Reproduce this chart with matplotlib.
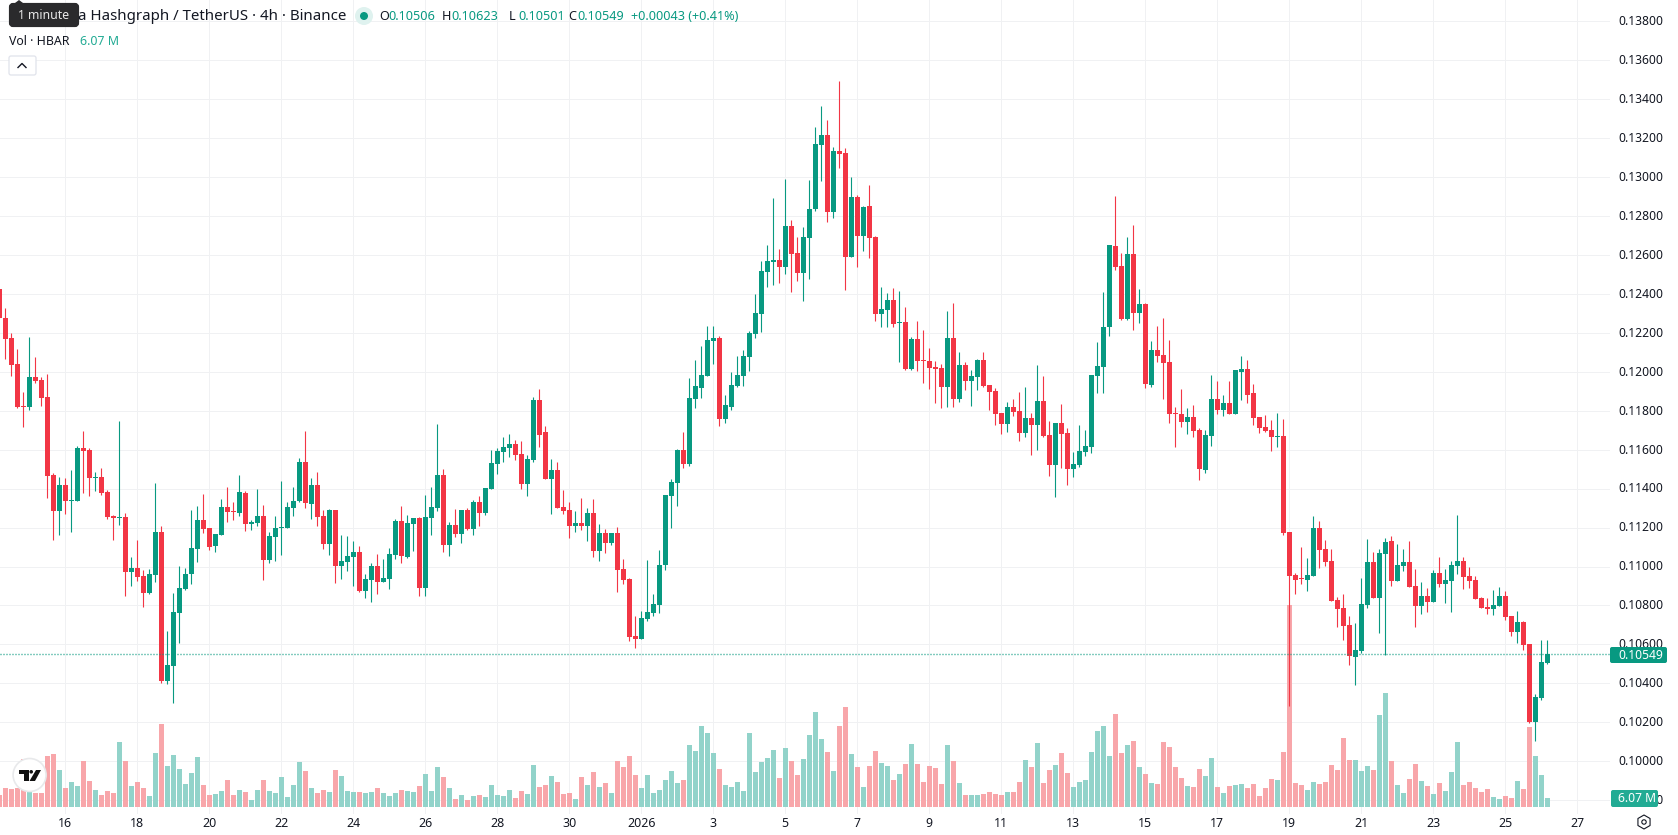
import matplotlib

matplotlib.use("Agg")
import matplotlib.pyplot as plt
from matplotlib.patches import Circle, FancyBboxPatch, Polygon, Rectangle, RegularPolygon
from matplotlib.transforms import ScaledTranslation
import numpy as np

# 4h candles, first one is Dec 14 04:00
opens = [
    .12427, .12278, .12175, .12042, .11824, .11821, .11975, .11960, .11872, .11471,
    .11286, .11420, .11337, .11337, .11610, .11600, .11457, .11461, .11384, .11260,
    .11250, .11255, .10972, .10993, .10952, .10864, .10957, .11178, .10412, .10489,
    .10762, .10885, .10962, .11091, .11240, .11199, .11106, .11163, .11307, .11286,
    .11276, .11379, .11219, .11224, .11260, .11034, .11152, .11199, .11199, .11301,
    .11335, .11536, .11320, .11417, .11258, .11114, .11289, .11001, .11021, .11047,
    .11073, .10872, .10929, .11001, .10919, .10934, .11057, .11232, .11047, .11217,
    .11248, .10888, .11248, .11299, .11469, .11109, .11212, .11165, .11289, .11191,
    .11330, .11273, .11397, .11525, .11587, .11608, .11628, .11577, .11422, .11546,
    .11854, .11693, .11448, .11494, .11304, .11289, .11207, .11222, .11207, .11276,
    .11081, .11173, .11122, .11173, .10988, .10937, .10644, .10628, .10731, .10762,
    .10803, .11009, .11364, .11430, .11600, .11528, .11862, .11919, .11981, .12161,
    .12176, .11760, .11821, .11929, .11981, .12078, .12194, .12296, .12512, .12564,
    .12574, .12538, .12749, .12610, .12507, .12687, .12836, .13165, .13217, .12821,
    .13134, .13124, .12589, .12898, .12697, .12852, .12692, .12296, .12317, .12368,
    .12250, .12255, .12014, .12168, .12062, .12057, .12026, .12021, .11924, .12175,
    .11862, .12037, .11954, .11975, .12062, .11934, .11903, .11790, .11733, .11821,
    .11800, .11687, .11764, .11728, .11852, .11677, .11523, .11738, .11687, .11502,
    .11523, .11589, .11615, .11980, .12026, .12228, .12644, .12546, .12274, .12603,
    .12300, .12346, .11935, .12114, .12089, .12053, .11791, .11785, .11744, .11770,
    .11703, .11498, .11672, .11863, .11806, .11842, .11785, .12001, .12017, .11893,
    .11770, .11719, .11703, .11667, .11672, .11178, .10957, .10941, .10931, .10951,
    .11198, .11090, .11029, .10828, .10787, .10700, .10535, .10566, .10802, .11023,
    .10838, .11065, .11131, .10926, .11003, .11023, .10900, .10797, .10849, .10818,
    .10967, .10910, .10926, .11003, .11029, .10951, .10931, .10838, .10792, .10782,
    .10797, .10849, .10746, .10664, .10715, .10602, .10200, .10324, .10506,
]
highs = [
    .12427, .12330, .12200, .12119, .11898, .12181, .12078, .11975, .11990, .11481,
    .11461, .11456, .11497, .11620, .11697, .11610, .11487, .11507, .11394, .11265,
    .11749, .11273, .11050, .11137, .10983, .10988, .11430, .11209, .10669, .10864,
    .11003, .10993, .11291, .11312, .11373, .11199, .11168, .11348, .11409, .11332,
    .11471, .11389, .11240, .11400, .11315, .11178, .11260, .11440, .11332, .11409,
    .11556, .11695, .11453, .11484, .11289, .11294, .11289, .11160, .11155, .11129,
    .11108, .10960, .11016, .11063, .11037, .11093, .11243, .11309, .11263, .11248,
    .11253, .11366, .11407, .11731, .11500, .11227, .11294, .11289, .11299, .11340,
    .11361, .11402, .11597, .11608, .11664, .11680, .11649, .11644, .11572, .11873,
    .11911, .11721, .11551, .11536, .11392, .11330, .11284, .11350, .11299, .11348,
    .11220, .11194, .11173, .11204, .11040, .10942, .10747, .10772, .11035, .10860,
    .11086, .11369, .11451, .11605, .11693, .11970, .12063, .12135, .12238, .12233,
    .12186, .11883, .12001, .12083, .12114, .12212, .12399, .12569, .12651, .12893,
    .12630, .12990, .12780, .12692, .12744, .12985, .13258, .13366, .13294, .13155,
    .13494, .13150, .13001, .12908, .12852, .12960, .12697, .12435, .12404, .12430,
    .12415, .12332, .12178, .12260, .12217, .12124, .12057, .12042, .12314, .12355,
    .12104, .12052, .12011, .12068, .12104, .11934, .11918, .11790, .11846, .11862,
    .11898, .11924, .11790, .12037, .11980, .11749, .11738, .11836, .11713, .11589,
    .11728, .11702, .11985, .12155, .12412, .12654, .12901, .12613, .12695, .12752,
    .12423, .12356, .12161, .12233, .12279, .12166, .11821, .11914, .11816, .11832,
    .11713, .11703, .11986, .11955, .11883, .11955, .12012, .12084, .12063, .11940,
    .11770, .11780, .11755, .11791, .11760, .11178, .10967, .11101, .11044, .11260,
    .11234, .11137, .11090, .10844, .10859, .10746, .10710, .10941, .11142, .11075,
    .11090, .11147, .11157, .11116, .11090, .11131, .10987, .10921, .10890, .10982,
    .11049, .10987, .11029, .11265, .11049, .10998, .10951, .10844, .10838, .10880,
    .10895, .10874, .10746, .10772, .10720, .10602, .10345, .10622, .10623,
]
lows = [
    .12275, .12067, .11980, .11816, .11718, .11805, .11944, .11826, .11353, .11137,
    .11163, .11271, .11178, .11337, .11379, .11363, .11389, .11368, .11245, .11137,
    .11214, .10849, .10900, .10926, .10792, .10859, .10921, .10402, .10397, .10299,
    .10607, .10880, .10911, .11024, .11173, .11086, .11075, .11163, .11229, .11240,
    .11260, .11183, .11188, .11209, .10931, .11019, .11029, .11060, .11199, .11260,
    .11330, .11299, .11243, .11207, .11088, .11057, .10913, .10934, .10975, .10898,
    .10867, .10841, .10816, .10857, .10919, .10883, .11037, .11016, .11042, .11078,
    .10847, .10847, .11160, .11284, .11073, .11052, .11150, .11119, .11186, .11160,
    .11207, .11263, .11397, .11474, .11536, .11561, .11546, .11397, .11361, .11536,
    .11613, .11448, .11268, .11299, .11268, .11145, .11176, .11186, .11129, .11050,
    .11029, .11071, .11112, .10870, .10911, .10618, .10582, .10628, .10721, .10747,
    .10762, .10983, .11199, .11312, .11508, .11518, .11816, .11868, .11981, .12042,
    .11724, .11739, .11806, .11924, .11929, .12006, .12173, .12204, .12435, .12445,
    .12456, .12502, .12409, .12466, .12363, .12476, .12826, .12980, .12769, .12790,
    .13047, .12420, .12589, .12538, .12620, .12584, .12260, .12229, .12229, .12229,
    .12050, .12009, .12009, .12006, .11944, .11913, .11841, .11816, .11821, .11821,
    .11846, .11908, .11826, .11908, .11924, .11805, .11728, .11682, .11692, .11774,
    .11646, .11666, .11574, .11600, .11667, .11466, .11358, .11507, .11420, .11461,
    .11512, .11569, .11584, .11893, .11893, .12186, .12521, .12264, .12264, .12217,
    .12253, .11919, .11924, .12053, .11863, .11739, .11616, .11719, .11683, .11667,
    .11446, .11482, .11621, .11785, .11775, .11785, .11785, .11857, .11842, .11729,
    .11688, .11693, .11595, .11616, .11164, .10283, .10859, .10910, .10874, .10951,
    .10993, .11003, .10823, .10689, .10622, .10494, .10391, .10556, .10787, .10838,
    .10658, .10545, .10900, .10926, .10977, .10895, .10689, .10756, .10766, .10818,
    .10895, .10813, .10766, .10962, .10885, .10890, .10833, .10787, .10756, .10751,
    .10797, .10725, .10643, .10607, .10571, .10196, .10103, .10314, .10501,
]
closes = [
    .12275, .12170, .12037, .11821, .11821, .11975, .11954, .11867, .11466, .11286,
    .11420, .11337, .11343, .11610, .11595, .11456, .11461, .11379, .11255, .11250,
    .11255, .10972, .10993, .10947, .10864, .10962, .11178, .10412, .10494, .10767,
    .10890, .10962, .11096, .11240, .11194, .11101, .11168, .11307, .11281, .11281,
    .11384, .11219, .11229, .11260, .11034, .11157, .11199, .11204, .11307, .11337,
    .11536, .11325, .11417, .11253, .11114, .11289, .11001, .11027, .11052, .11073,
    .10877, .10934, .11001, .10919, .10939, .11063, .11232, .11052, .11222, .11248,
    .10888, .11253, .11304, .11469, .11109, .11212, .11165, .11289, .11191, .11330,
    .11273, .11402, .11530, .11592, .11613, .11628, .11572, .11422, .11551, .11854,
    .11674, .11448, .11494, .11299, .11284, .11207, .11222, .11207, .11273, .11081,
    .11173, .11122, .11173, .10983, .10932, .10639, .10628, .10736, .10767, .10808,
    .11009, .11369, .11436, .11600, .11528, .11868, .11929, .11986, .12166, .12176,
    .11760, .11832, .11934, .11986, .12083, .12202, .12301, .12517, .12569, .12574,
    .12538, .12749, .12605, .12507, .12692, .12836, .13170, .13217, .12821, .13134,
    .13119, .12589, .12898, .12697, .12846, .12687, .12296, .12322, .12368, .12245,
    .12255, .12014, .12168, .12057, .12057, .12021, .12016, .11924, .12175, .11862,
    .12037, .11954, .11980, .12062, .11929, .11898, .11785, .11733, .11821, .11795,
    .11687, .11764, .11728, .11852, .11672, .11523, .11738, .11682, .11502, .11528,
    .11595, .11620, .11985, .12032, .12232, .12649, .12536, .12274, .12603, .12300,
    .12346, .11940, .12114, .12084, .12048, .11785, .11785, .11744, .11770, .11698,
    .11503, .11677, .11863, .11806, .11842, .11785, .12007, .12017, .11883, .11765,
    .11713, .11698, .11667, .11672, .11174, .10951, .10931, .10936, .10957, .11198,
    .11085, .11023, .10823, .10782, .10694, .10540, .10571, .10808, .11023, .10838,
    .11070, .11126, .10926, .11008, .11023, .10895, .10797, .10849, .10818, .10967,
    .10910, .10931, .11008, .11029, .10946, .10926, .10833, .10787, .10782, .10802,
    .10849, .10741, .10664, .10715, .10597, .10200, .10329, .10509, .10549,
]
# volume in millions of HBAR
volumes = [
    8.1, 12.8, 12.1, 12.8, 32.1, 18.2, 9.4, 9.4, 34.4, 35.7,
    25.0, 12.8, 16.9, 14.2, 31.0, 17.5, 11.5, 8.1, 10.8, 9.4,
    43.8, 31.0, 14.2, 16.9, 12.8, 7.4, 36.4, 56.0, 27.7, 35.1,
    25.6, 15.5, 22.9, 33.7, 14.8, 8.1, 8.8, 10.8, 18.2, 8.1,
    11.5, 10.1, 4.7, 11.5, 18.2, 10.8, 9.4, 20.2, 6.7, 14.8,
    30.3, 24.3, 12.8, 9.4, 11.5, 10.1, 25.0, 20.9, 10.8, 10.1,
    10.1, 9.4, 10.1, 12.8, 9.4, 7.4, 9.4, 11.5, 10.8, 10.1,
    14.2, 22.3, 10.8, 27.0, 20.2, 12.8, 5.4, 8.1, 4.7, 7.4,
    8.1, 6.7, 14.8, 8.1, 7.4, 11.5, 6.1, 10.8, 8.8, 28.3,
    13.5, 14.8, 20.9, 16.9, 8.8, 9.4, 5.4, 20.2, 14.8, 23.6,
    13.5, 16.2, 9.4, 31.0, 27.0, 34.4, 21.6, 12.8, 21.6, 9.4,
    11.5, 18.2, 24.3, 16.2, 18.2, 41.8, 37.8, 54.6, 49.9, 36.4,
    25.6, 14.8, 13.5, 16.9, 10.8, 49.9, 23.6, 30.3, 33.0, 38.4,
    19.6, 39.8, 31.0, 21.6, 32.4, 48.6, 64.1, 45.9, 37.1, 24.3,
    54.6, 67.4, 35.7, 27.0, 13.5, 27.7, 37.8, 29.7, 27.7, 18.2,
    22.3, 29.0, 42.5, 29.0, 16.9, 27.7, 26.3, 15.5, 41.8, 31.0,
    16.2, 8.1, 8.1, 8.1, 8.8, 10.1, 8.8, 8.1, 10.1, 10.1,
    16.9, 31.7, 27.0, 43.2, 16.2, 25.0, 28.3, 36.4, 22.9, 13.5,
    16.9, 18.2, 37.1, 51.3, 54.6, 34.4, 62.7, 36.4, 41.8, 44.5,
    27.0, 22.3, 16.2, 15.5, 43.8, 40.5, 27.0, 19.6, 14.2, 13.5,
    25.6, 20.9, 33.0, 13.5, 9.4, 14.2, 14.8, 15.5, 12.8, 15.5,
    7.4, 12.8, 18.9, 18.2, 37.1, 136.2, 16.2, 14.8, 11.5, 16.9,
    15.5, 16.9, 28.3, 25.0, 46.5, 31.7, 31.7, 24.3, 27.7, 25.0,
    62.0, 76.9, 31.0, 14.8, 9.4, 18.9, 29.0, 17.5, 14.2, 8.8,
    16.2, 10.8, 23.6, 43.8, 14.8, 16.9, 12.8, 10.1, 12.1, 6.7,
    5.4, 7.4, 6.1, 17.5, 12.1, 54.0, 34.4, 21.6, 6.07,
]
day_labels = ["16", "18", "20", "22", "24", "26", "28", "30", "2026",
              "3", "5", "7", "9", "11", "13", "15", "17", "19", "21", "23", "25", "27"]
day_positions = [11 + 12 * n for n in range(len(day_labels))]
price_ticks = [0.098 + 0.002 * n for n in range(21)]

UP = "#089981"
DOWN = "#F23645"
UP_VOL = "#92D3CA"
DOWN_VOL = "#F8A6AA"
GRID = "#F0F1F3"
INK = "#131722"
WIDTH, HEIGHT = 1678, 835
PLOT_RIGHT, PLOT_BOTTOM = 1610, 814
PX = 0.72  # one pixel in points at dpi 100

plt.rcParams["font.family"] = ["Noto Sans", "DejaVu Sans"]

o = np.array(opens)
h = np.array(highs)
l = np.array(lows)
c = np.array(closes)
v = np.array(volumes)
idx = np.arange(len(c))
rising = c >= o
candle_colors = np.where(rising, UP, DOWN)
vol_colors = np.where(rising, UP_VOL, DOWN_VOL)

fig = plt.figure(figsize=(WIDTH / 100, HEIGHT / 100), dpi=100, facecolor="white")
rect = [0, 1 - PLOT_BOTTOM / HEIGHT, PLOT_RIGHT / WIDTH, PLOT_BOTTOM / HEIGHT]

# grid and both scale labels live on the bottom axes
ax = fig.add_axes(rect)
ax.set_xlim(0.7 / 6, (PLOT_RIGHT + 0.7) / 6)
ax.set_ylim(0.097291, 0.139099)
ax.set_yticks(price_ticks, [f"{t:.5f}" for t in price_ticks])
ax.set_xticks(day_positions, day_labels)
ax.yaxis.tick_right()
ax.tick_params(axis="y", length=0, pad=5.8, labelsize=8.7, labelcolor=INK)
ax.tick_params(axis="x", length=0, pad=2.2, labelsize=8.9, labelcolor=INK)
ax.grid(True, color=GRID, linewidth=PX)
ax.set_axisbelow(True)
for spine in ax.spines.values():
    spine.set_visible(False)
for label in ax.get_xticklabels():
    if label.get_text() == "2026":
        label.set_fontweight("bold")
nudge_up = ScaledTranslation(0, 1.2 / 100, fig.dpi_scale_trans)
for label in ax.get_yticklabels():
    label.set_transform(label.get_transform() + nudge_up)

vol_ax = fig.add_axes(rect, sharex=ax)
vol_ax.set_ylim(-4.72, 544.2)
vol_ax.bar(idx, v, width=0.83, color=vol_colors, linewidth=0)
vol_ax.axis("off")

candle_ax = fig.add_axes(rect, sharex=ax, sharey=ax)
candle_ax.axhline(c[-1], color=UP, linewidth=1.0, linestyle=(0, (0.72, 1.44)))
candle_ax.vlines(idx, l, h, colors=candle_colors, linewidth=0.8)
body_low = np.minimum(o, c)
body_height = np.abs(c - o)
candle_ax.bar(idx, body_height, bottom=body_low, width=0.83, color=candle_colors, linewidth=0)
candle_ax.axis("off")

# legend row, price tags and logo are placed in pixels
top = fig.add_axes([0, 0, 1, 1])
top.set_xlim(0, WIDTH)
top.set_ylim(HEIGHT, 0)
top.axis("off")


def put(x, y, text, color=INK, size=8.7, ha="left", **kwargs):
    top.text(x, y, text, color=color, fontsize=size, ha=ha, va="center", **kwargs)


put(78, 16.5, "a Hashgraph / TetherUS · 4h · Binance", size=10.8)
top.add_patch(Polygon([(15, 3), (19, 0), (23, 3)], closed=True, facecolor="#2A2A2C", edgecolor="none"))
top.add_patch(FancyBboxPatch((11, 5), 66, 20, boxstyle="round,pad=0,rounding_size=2",
                             facecolor="#2A2A2C", edgecolor="#2A2A2C", linewidth=3))
put(18, 15.5, "1 minute", color="#E8E8E8", size=8.8)

top.add_patch(Circle((364, 16), 9, facecolor="#DFF2EF", edgecolor="none"))
top.add_patch(Circle((364, 16), 4, facecolor=UP, edgecolor="none"))
for letter, value, x in [("O", "0.10506", 379), ("H", "0.10623", 442), ("L", "0.10501", 509), ("C", "0.10549", 568)]:
    put(x, 16.5, letter, size=9.1)
    put(x + 9, 16.5, value, color=UP, size=9.1)
put(631, 16.5, "+0.00043 (+0.41%)", color=UP, size=9.1)

put(9, 41.5, "Vol · HBAR", size=8.9)
put(80, 41.5, "6.07 M", color="#22AB94", size=8.9)
top.add_patch(FancyBboxPatch((9, 56), 27, 19, boxstyle="round,pad=0,rounding_size=2",
                             facecolor="white", edgecolor="#E0E3EB", linewidth=0.9))
top.plot([18, 22, 26], [67.5, 63.5, 67.5], color=INK, linewidth=1.0)

# logo badge
top.add_patch(Circle((29.6, 775), 16.5, facecolor="white", edgecolor="#E8E9EB", linewidth=1.2))
top.add_patch(Rectangle((18.6, 770), 10, 3.5, facecolor="#111111", edgecolor="none"))
top.add_patch(Rectangle((23.6, 773), 5, 8, facecolor="#111111", edgecolor="none"))
top.add_patch(Circle((31.2, 771.8), 1.8, facecolor="#111111", edgecolor="none"))
top.add_patch(Polygon([(36, 770), (41, 770), (35, 781), (29.5, 781)], closed=True,
                      facecolor="#111111", edgecolor="none"))

# last price and last volume tags over the scale
top.add_patch(FancyBboxPatch((1610, 647), 57, 16, boxstyle="round,pad=0,rounding_size=2",
                             facecolor=UP, edgecolor="none"))
put(1618, 655.5, "0.10549", color="white", size=8.7)
top.add_patch(FancyBboxPatch((1611, 790), 47, 17, boxstyle="round,pad=0,rounding_size=2",
                             facecolor="#22AB94", edgecolor="none"))
put(1618, 798.5, "6.07 M", color="white", size=8.7)

# settings icon in the corner
top.add_patch(RegularPolygon((1644, 822), 6, radius=7, orientation=0,
                             facecolor="none", edgecolor=INK, linewidth=0.8))
top.add_patch(Circle((1644, 822), 2.2, facecolor="none", edgecolor=INK, linewidth=0.8))

fig.savefig("out.png", dpi=100)
plt.close(fig)
